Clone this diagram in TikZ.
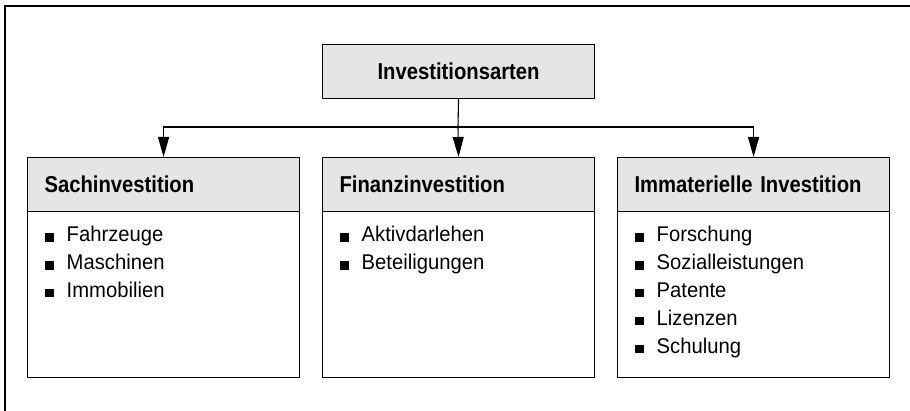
\documentclass[tikz,border=0pt]{standalone}
\usepackage{fontspec}
\setmainfont{Liberation Sans}
\newfontfamily\hdrfont{Liberation Sans}[FakeStretch=0.88]
\newfontfamily\itemfont{Liberation Sans}[FakeStretch=0.95]
\usetikzlibrary{arrows.meta}
\tikzset{
  frameline/.style={line width=2.4pt, line cap=rect},
  hdrbox/.style={draw=black, line width=1.1pt, fill=black!10, anchor=north west,
    minimum width=272pt, minimum height=54pt, text width=238pt, inner xsep=17pt,
    inner ysep=0pt, align=left, font=\hdrfont\bfseries\fontsize{23}{27}\selectfont},
  topbox/.style={hdrbox, align=center},
  bodybox/.style={draw=black, line width=1.1pt, anchor=north west,
    minimum width=272pt, minimum height=166pt, inner sep=0pt},
  item/.style={anchor=base west, inner sep=0pt, font=\itemfont\fontsize{21.3}{25}\selectfont},
  conn/.style={line width=1.1pt},
  arr/.style={conn, -{Triangle[length=20pt,width=11pt]}}
}
\newcommand{\bul}{\rule{8.5pt}{8.5pt}\hspace{13pt}}
\begin{document}
\begin{tikzpicture}[x=1pt,y=-1pt]
\useasboundingbox (0,0) rectangle (910,411);
\draw[frameline] (5,420) -- (5,6) -- (915,6);

\node[topbox] (top) at (322,44) {Investitionsarten};

\node[hdrbox] (h1) at (27,157) {Sachinvestition};
\node[hdrbox] (h2) at (322,157) {Finanzinvestition};
\node[hdrbox] (h3) at (617,157) {Immaterielle Investition};

\node[bodybox] (b1) at (27,211) {};
\node[bodybox] (b2) at (322,211) {};
\node[bodybox] (b3) at (617,211) {};

\coordinate (j) at (458,127);
\draw[conn] (top.south) -- (j);
\draw[arr] (j) -| (h1.north);
\draw[arr] (j) -- (h2.north);
\draw[arr] (j) -| (h3.north);

\node[item] (a1) at (45,241.7) {\bul Fahrzeuge};
\node[item] (a2) at (45,269.6) {\bul Maschinen};
\node[item] (a3) at (45,297.5) {\bul Immobilien};

\node[item] (f1) at (340,241.7) {\bul Aktivdarlehen};
\node[item] (f2) at (340,269.6) {\bul Beteiligungen};

\node[item] (i1) at (635,241.7) {\bul Forschung};
\node[item] (i2) at (635,269.6) {\bul Sozialleistungen};
\node[item] (i3) at (635,297.5) {\bul Patente};
\node[item] (i4) at (635,325.4) {\bul Lizenzen};
\node[item] (i5) at (635,353.3) {\bul Schulung};
\end{tikzpicture}
\end{document}
